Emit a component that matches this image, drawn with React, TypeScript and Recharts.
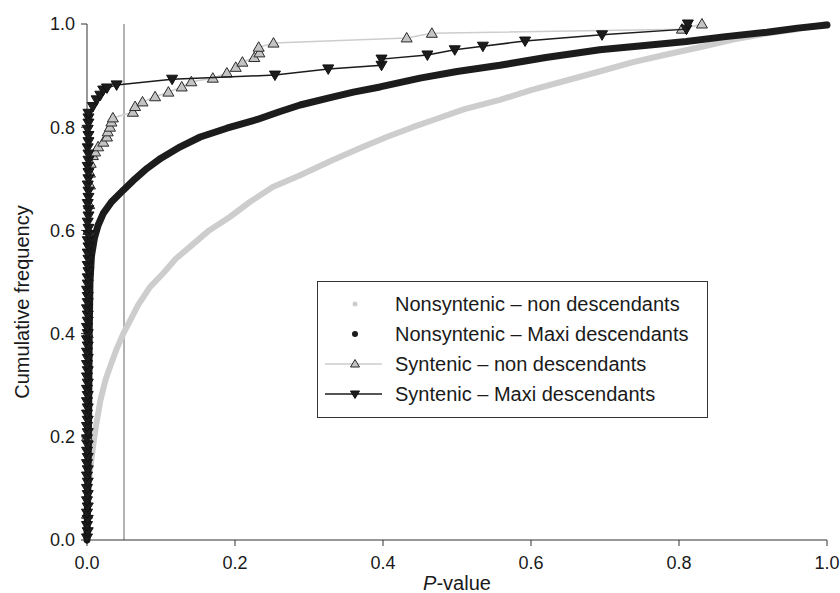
import { ScatterChart, Scatter, XAxis, YAxis, ReferenceLine, Label } from 'recharts';

// cumulative frequency curves, read as [P-value, cumulative frequency]
const nonsynNon: [number, number][] = [
  [0, 0.0], [0.001, 0.05], [0.003, 0.12], [0.008, 0.18], [0.012, 0.22], [0.018, 0.27],
  [0.025, 0.31], [0.031, 0.335], [0.04, 0.37], [0.049, 0.4], [0.06, 0.43], [0.069, 0.455],
  [0.085, 0.49], [0.103, 0.517], [0.12, 0.545], [0.139, 0.568], [0.165, 0.6], [0.193, 0.626],
  [0.22, 0.655], [0.251, 0.684], [0.288, 0.707], [0.33, 0.735], [0.37, 0.76], [0.405, 0.781],
  [0.44, 0.8], [0.468, 0.814], [0.51, 0.835], [0.558, 0.853], [0.6, 0.872], [0.649, 0.891],
  [0.69, 0.907], [0.738, 0.926], [0.78, 0.94], [0.828, 0.955], [0.873, 0.97], [0.919, 0.982],
  [0.96, 0.99], [1.0, 1.0],
];

const nonsynMaxi: [number, number][] = [
  [0, 0.0], [0.002, 0.2], [0.003, 0.4], [0.004, 0.5], [0.006, 0.55], [0.01, 0.585],
  [0.015, 0.61], [0.022, 0.633], [0.033, 0.655], [0.049, 0.678], [0.065, 0.7], [0.081, 0.72],
  [0.1, 0.74], [0.126, 0.762], [0.153, 0.781], [0.189, 0.798], [0.23, 0.815], [0.26, 0.83],
  [0.288, 0.843], [0.33, 0.858], [0.36, 0.868], [0.396, 0.878], [0.45, 0.895], [0.5, 0.908],
  [0.558, 0.92], [0.62, 0.935], [0.693, 0.95], [0.75, 0.958], [0.81, 0.966], [0.86, 0.975],
  [0.919, 0.984], [0.96, 0.992], [1.0, 0.998],
];

const synNon: [number, number][] = [
  [0, 0.05], [0, 0.2], [0.001, 0.4], [0.002, 0.6], [0.003, 0.65], [0.004, 0.688],
  [0.004, 0.711], [0.005, 0.73], [0.008, 0.745], [0.011, 0.752], [0.015, 0.762], [0.022, 0.771],
  [0.027, 0.781], [0.028, 0.791], [0.031, 0.8], [0.033, 0.81], [0.035, 0.818], [0.062, 0.829],
  [0.065, 0.84], [0.075, 0.849], [0.092, 0.859], [0.11, 0.868], [0.128, 0.878], [0.141, 0.888],
  [0.17, 0.895], [0.189, 0.905], [0.201, 0.916], [0.21, 0.926], [0.226, 0.935], [0.233, 0.944],
  [0.232, 0.955], [0.252, 0.963], [0.432, 0.973], [0.466, 0.982], [0.804, 0.99], [0.831, 1.0],
];

const synMaxi: [number, number][] = [
  [0, 0.004], [0.001, 0.016], [0, 0.028], [0.001, 0.04], [0, 0.052], [0.001, 0.064],
  [0, 0.076], [0.001, 0.088], [0, 0.1], [0.001, 0.112], [0, 0.124], [0.001, 0.136],
  [0, 0.148], [0.001, 0.16], [0, 0.172], [0.001, 0.184], [0, 0.196], [0.001, 0.208],
  [0, 0.22], [0.001, 0.232], [0, 0.244], [0.001, 0.256], [0, 0.268], [0.001, 0.28],
  [0, 0.292], [0.001, 0.304], [0, 0.316], [0.001, 0.328], [0, 0.34], [0.001, 0.352],
  [0, 0.364], [0.001, 0.376], [0, 0.388], [0.001, 0.4], [0, 0.412], [0.001, 0.424],
  [0.001, 0.436], [0, 0.448], [0.001, 0.46], [0.001, 0.472], [0, 0.484], [0.001, 0.496],
  [0.001, 0.508], [0.002, 0.52], [0.001, 0.532], [0.002, 0.544], [0.001, 0.556], [0.002, 0.568],
  [0.001, 0.58], [0.002, 0.592], [0.002, 0.604], [0.001, 0.616], [0.002, 0.628], [0.002, 0.64],
  [0.001, 0.652], [0.002, 0.664], [0.002, 0.676], [0.001, 0.688], [0.002, 0.7], [0.002, 0.712],
  [0.001, 0.724], [0.002, 0.736], [0.002, 0.748], [0.001, 0.76], [0.002, 0.772], [0.002, 0.784],
  [0.001, 0.796], [0.002, 0.808], [0.002, 0.818], [0.002, 0.827],
  [0.008, 0.84], [0.013, 0.853], [0.018, 0.862], [0.022, 0.872], [0.027, 0.876], [0.04, 0.882],
  [0.115, 0.893], [0.254, 0.901], [0.326, 0.913], [0.398, 0.92], [0.398, 0.932], [0.46, 0.94],
  [0.497, 0.95], [0.535, 0.957], [0.592, 0.967], [0.696, 0.979], [0.81, 0.99], [0.812, 1.0],
];

const seriesNames = [
  'Nonsyntenic – non descendants',
  'Nonsyntenic – Maxi descendants',
  'Syntenic – non descendants',
  'Syntenic – Maxi descendants',
];

const xTicks = [0, 0.2, 0.4, 0.6, 0.8, 1.0];
const yTicks = [0, 0.2, 0.4, 0.6, 0.8, 1.0];
const threshold = 0.05;

const toPts = (arr: [number, number][]) => arr.map(([p, f]) => ({ p, f }));

const LIGHT = '#cdcdcd';
const DARK = '#1c1c1c';
const FONT = '"Liberation Sans", Arial, Helvetica, sans-serif';

const NoDot = () => <g />;

const UpTri = (props: any) => {
  const { cx, cy } = props;
  return (
    <polygon
      points={`${cx},${cy - 5.5} ${cx - 5.5},${cy + 4} ${cx + 5.5},${cy + 4}`}
      fill="#c4c4c4"
      stroke="#2a2a2a"
      strokeWidth={1}
    />
  );
};

const DownTri = (props: any) => {
  const { cx, cy } = props;
  return (
    <polygon
      points={`${cx - 5.5},${cy - 4} ${cx + 5.5},${cy - 4} ${cx},${cy + 5.5}`}
      fill={DARK}
      stroke="#111"
      strokeWidth={1}
    />
  );
};

function LegendIcon({ i }: { i: number }) {
  return (
    <svg width={60} height={20} style={{ display: 'block' }}>
      {i === 0 && <circle cx={30} cy={10} r={2.5} fill={LIGHT} />}
      {i === 1 && <circle cx={30} cy={10} r={3} fill={DARK} />}
      {i === 2 && (
        <>
          <line x1={0} y1={10} x2={57} y2={10} stroke={LIGHT} strokeWidth={1.5} />
          <polygon points="30,5.5 25.5,13 34.5,13" fill="#c4c4c4" stroke="#2a2a2a" strokeWidth={1} />
        </>
      )}
      {i === 3 && (
        <>
          <line x1={0} y1={10} x2={57} y2={10} stroke={DARK} strokeWidth={1.5} />
          <polygon points="25.5,7 34.5,7 30,14.5" fill={DARK} stroke="#111" strokeWidth={1} />
        </>
      )}
    </svg>
  );
}

export default function App() {
  return (
    <div
      style={{
        position: 'absolute',
        left: 0,
        top: 0,
        width: 840,
        height: 593,
        background: '#fff',
        fontFamily: FONT,
      }}
    >
      <ScatterChart width={840} height={593} margin={{ top: 24, right: 13, bottom: 0, left: 0 }}>
        <XAxis
          type="number"
          dataKey="p"
          domain={[0, 1]}
          ticks={xTicks}
          tickFormatter={(v: number) => v.toFixed(1)}
          height={53}
          tickSize={6}
          tickMargin={10}
          axisLine={{ stroke: '#333' }}
          tickLine={{ stroke: '#333' }}
          tick={{ fontSize: 18, fill: '#1a1a1a' }}
        >
          <Label
            content={() => (
              <text x={457} y={590} textAnchor="middle" fontSize={20} fill="#1a1a1a">
                <tspan fontStyle="italic">P</tspan>-value
              </text>
            )}
          />
        </XAxis>
        <YAxis
          type="number"
          dataKey="f"
          domain={[0, 1]}
          ticks={yTicks}
          tickFormatter={(v: number) => v.toFixed(1)}
          width={87}
          tickSize={6}
          tickMargin={6}
          axisLine={{ stroke: '#333' }}
          tickLine={{ stroke: '#333' }}
          tick={{ fontSize: 18, fill: '#1a1a1a' }}
        >
          <Label
            content={() => (
              <text
                x={22}
                y={302}
                transform="rotate(-90 22 302)"
                textAnchor="middle"
                dominantBaseline="central"
                fontSize={20}
                fill="#1a1a1a"
              >
                Cumulative frequency
              </text>
            )}
          />
        </YAxis>
        <ReferenceLine x={threshold} stroke="#666" strokeWidth={1} />
        <Scatter
          name={seriesNames[0]}
          data={toPts(nonsynNon)}
          fill={LIGHT}
          line={{ stroke: LIGHT, strokeWidth: 6, strokeLinejoin: 'round', strokeLinecap: 'round' }}
          shape={NoDot}
          isAnimationActive={false}
        />
        <Scatter
          name={seriesNames[1]}
          data={toPts(nonsynMaxi)}
          fill={DARK}
          line={{ stroke: DARK, strokeWidth: 7, strokeLinejoin: 'round', strokeLinecap: 'round' }}
          shape={NoDot}
          isAnimationActive={false}
        />
        <Scatter
          name={seriesNames[2]}
          data={toPts(synNon)}
          fill="#c4c4c4"
          line={{ stroke: LIGHT, strokeWidth: 1.5 }}
          shape={UpTri}
          isAnimationActive={false}
        />
        <Scatter
          name={seriesNames[3]}
          data={toPts(synMaxi)}
          fill={DARK}
          line={{ stroke: DARK, strokeWidth: 1.5 }}
          shape={DownTri}
          isAnimationActive={false}
        />
      </ScatterChart>
      <div
        style={{
          position: 'absolute',
          left: 317,
          top: 281,
          width: 391,
          height: 137,
          border: '1px solid #333',
          boxSizing: 'border-box',
          background: '#fff',
        }}
      >
        {seriesNames.map((name, i) => (
          <div
            key={name}
            style={{
              position: 'absolute',
              left: 7,
              top: 11 + i * 30,
              height: 22,
              display: 'flex',
              alignItems: 'center',
              whiteSpace: 'nowrap',
            }}
          >
            <LegendIcon i={i} />
            <span style={{ marginLeft: 10, fontSize: 20, color: '#1a1a1a', lineHeight: '22px' }}>{name}</span>
          </div>
        ))}
      </div>
    </div>
  );
}
